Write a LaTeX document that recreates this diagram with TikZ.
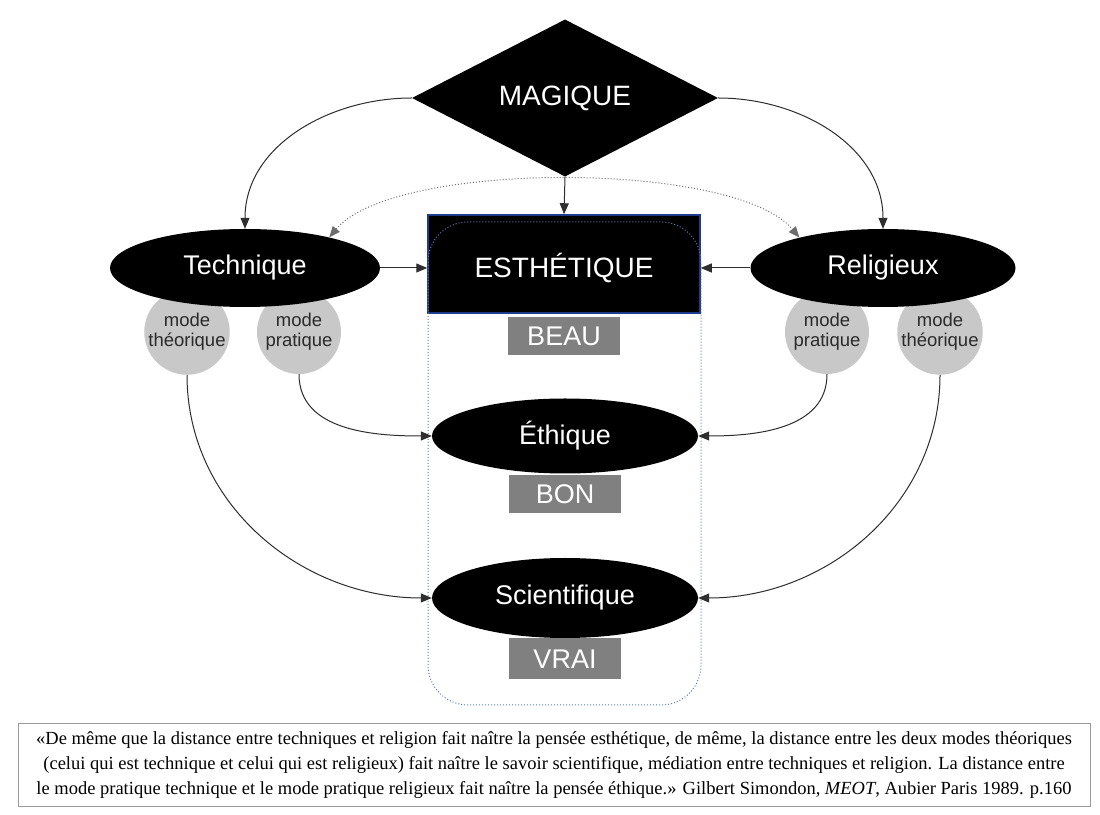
\documentclass[tikz,border=0pt]{standalone}
\usepackage{fontspec}
\setmainfont{Liberation Serif}
\setsansfont{Liberation Sans}
\usetikzlibrary{shapes.geometric, arrows.meta, positioning}
\definecolor{boxblue}{HTML}{1E3A8C}
\definecolor{framedot}{HTML}{5B7DB8}
\definecolor{valgray}{HTML}{808080}
\definecolor{modegray}{HTML}{C8C8C8}
\definecolor{modetext}{HTML}{2A2A2A}
\definecolor{darkline}{HTML}{2E2E2E}
\definecolor{quoteline}{HTML}{9A9A9A}
\tikzstyle{magic} = [diamond, fill=black, minimum width=306pt, minimum height=140pt, inner sep=0pt, text=white, font=\sffamily\fontsize{28}{30}\selectfont]
\tikzstyle{pole} = [ellipse, fill=black, minimum width=268pt, minimum height=78pt, inner sep=0pt, text=white, font=\sffamily\fontsize{27}{30}\selectfont]
\tikzstyle{aesth} = [rectangle, fill=black, draw=boxblue, line width=1.5pt, minimum width=272pt, minimum height=98pt, text height=30pt, text depth=2pt, text=white, font=\sffamily\fontsize{28}{30}\selectfont]
\tikzstyle{value} = [rectangle, fill=valgray, minimum width=112pt, minimum height=38pt, inner sep=0pt, text=white, font=\sffamily\fontsize{27}{30}\selectfont]
\tikzstyle{mode} = [circle, fill=modegray, minimum size=84pt, inner sep=0pt, align=center, text=modetext, font=\sffamily\fontsize{18.5}{20}\selectfont]
\tikzstyle{arrow} = [line width=1pt, draw=darkline, -{Triangle[length=11pt,width=9pt]}]
\tikzstyle{link} = [line width=1pt, draw=darkline!70, dotted, {Triangle[length=11pt,width=9pt]}-{Triangle[length=11pt,width=9pt]}]
\tikzstyle{quote} = [rectangle, draw=quoteline, line width=1pt, minimum width=1072pt, minimum height=83pt, align=center, font=\fontsize{18.5}{25}\selectfont]

\begin{document}
\begin{tikzpicture}[x=1pt, y=1pt]
      \fill [white] (0,0) rectangle (1100,814);
      \useasboundingbox (0,0) rectangle (1100,814);
      \node (dia) [magic] at (565,716) {MAGIQUE};
      \node (esth) [aesth] at (564,550) {ESTHÉTIQUE};
      \draw [framedot, dotted, line width=1pt, rounded corners=40pt] (428,592) rectangle (701,109);
      \node (beau) [value, below=3pt of esth] {BEAU};
      % modes below the two poles
      \node (tth) [mode] at (187,482) {mode\\théorique};
      \node (tpr) [mode] at (299,482) {mode\\pratique};
      \node (rpr) [mode] at (827,482) {mode\\pratique};
      \node (rth) [mode] at (940,482) {mode\\théorique};
      \node (tech) [pole, minimum width=270pt] at (245,546) {Technique};
      \node (rel) [pole, minimum width=265pt] at (883,546) {Religieux};
      \node (eth) [pole, minimum width=266pt, minimum height=75pt] at (565,378) {Éthique};
      \node (bon) [value, below=1pt of eth] {BON};
      \node (sci) [pole, minimum width=266pt, minimum height=80pt] at (565,216) {Scientifique};
      \node (vrai) [value, below=0pt of sci, minimum height=41pt] {VRAI};
      \draw [arrow] (dia.west) to[out=180,in=90] (tech.north);
      \draw [arrow] (dia.east) to[out=0,in=90] (rel.north);
      \draw [arrow] (dia.south) -- (esth.north);
      \draw [link] (tech.20) to[out=50,in=130,looseness=0.55] (rel.160);
      \draw [arrow] (tech.east) -- (tech.east -| esth.west);
      \draw [arrow] (rel.west) -- (rel.west -| esth.east);
      \draw [arrow] (tpr.south) to[out=-90,in=180] (eth.west);
      \draw [arrow] (rpr.south) to[out=-90,in=0] (eth.east);
      \draw [arrow] (tth.south) to[out=-90,in=180] (sci.west);
      \draw [arrow] (rth.south) to[out=-90,in=0] (sci.east);
      \node (cite) [quote] at (554,49.5) {«De même que la distance entre techniques et religion fait naître la pensée esthétique, de même, la distance entre les deux modes théoriques\\(celui qui est technique et celui qui est religieux) fait naître le savoir scientifique, médiation entre techniques et religion. La distance entre\\le mode pratique technique et le mode pratique religieux fait naître la pensée éthique.» Gilbert Simondon, \textit{MEOT}, Aubier Paris 1989. p.160};
    \end{tikzpicture}
\end{document}
